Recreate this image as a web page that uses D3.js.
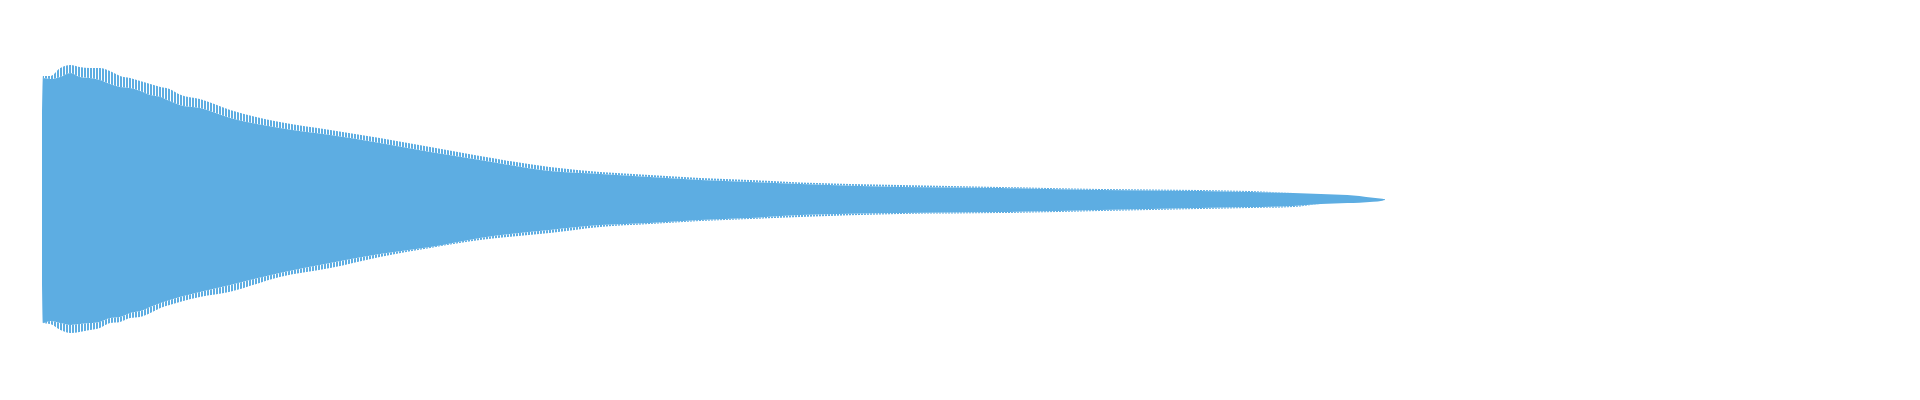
<!DOCTYPE html>
<html>
<head>
<meta charset="utf-8">
<script src="https://cdn.jsdelivr.net/npm/d3@7"></script>
<style>
    body { margin: 0; background: #fff; }
</style>
</head>
<body>
<div id="wave"></div>
<script>
// envelope of the waveform (time in s, amplitude -1..1)
var times =   [0, 0.001, 0.009, 0.020, 0.031, 0.041, 0.052, 0.063, 0.074, 0.085, 0.096, 0.107, 0.118, 0.129, 0.139, 0.150, 0.172, 0.205, 0.259, 0.314, 0.368, 0.423, 0.477, 0.553, 0.608, 0.662, 0.717, 0.771, 0.826, 0.935, 1.044, 1.153, 1.261, 1.316, 1.363, 1.393, 1.422, 1.435, 1.450, 1.460, 1.463]
var peakMax = [0.60, 0.886, 0.886, 0.943, 0.964, 0.950, 0.943, 0.943, 0.921, 0.886, 0.871, 0.850, 0.829, 0.807, 0.793, 0.754, 0.721, 0.643, 0.557, 0.500, 0.443, 0.379, 0.314, 0.236, 0.200, 0.179, 0.157, 0.143, 0.125, 0.107, 0.093, 0.079, 0.071, 0.064, 0.050, 0.043, 0.036, 0.029, 0.016, 0.009, 0.005]
var bodyMax = [0.60, 0.871, 0.864, 0.879, 0.907, 0.879, 0.871, 0.857, 0.829, 0.807, 0.800, 0.779, 0.750, 0.736, 0.707, 0.679, 0.657, 0.586, 0.514, 0.464, 0.407, 0.343, 0.286, 0.207, 0.186, 0.164, 0.143, 0.129, 0.114, 0.093, 0.086, 0.071, 0.064, 0.057, 0.050, 0.043, 0.036, 0.029, 0.016, 0.009, 0.005]
var bodyMin = [-0.60, -0.879, -0.864, -0.879, -0.893, -0.886, -0.879, -0.871, -0.843, -0.836, -0.807, -0.793, -0.764, -0.736, -0.714, -0.693, -0.657, -0.607, -0.521, -0.450, -0.386, -0.336, -0.271, -0.214, -0.179, -0.164, -0.143, -0.129, -0.107, -0.093, -0.086, -0.071, -0.057, -0.050, -0.043, -0.029, -0.021, -0.019, -0.012, -0.005, 0]
var peakMin = [-0.60, -0.879, -0.886, -0.929, -0.950, -0.943, -0.929, -0.914, -0.879, -0.871, -0.843, -0.836, -0.807, -0.771, -0.750, -0.729, -0.693, -0.655, -0.550, -0.486, -0.407, -0.343, -0.286, -0.236, -0.193, -0.171, -0.150, -0.136, -0.121, -0.100, -0.093, -0.079, -0.064, -0.057, -0.050, -0.029, -0.021, -0.019, -0.012, -0.005, 0]

width = 1920
height = 400
waveColor = '#5dade2'

var svg = d3.select('#wave').append('svg')
    .attr('width', width)
    .attr('height', height)
    .style('display', 'block')

var xScale = d3.scaleLinear()
    .domain([0, 2])
    .range([42, width - 42])

var yScale = d3.scaleLinear()
    .domain([-1, 1])
    .range([340, 60])

var rows = times.map(function (t, i) {
    return { t: t, pMax: peakMax[i], bMax: bodyMax[i], bMin: bodyMin[i], pMin: peakMin[i] }
})

// thin vertical strokes for the ragged edge
var pattern = svg.append('defs').append('pattern')
    .attr('id', 'spikes')
    .attr('patternUnits', 'userSpaceOnUse')
    .attr('width', 3)
    .attr('height', 10)
pattern.append('rect')
    .attr('x', 0)
    .attr('y', 0)
    .attr('width', 2)
    .attr('height', 10)
    .style('fill', waveColor)

function band(lo, hi) {
    return d3.area()
        .x(d => xScale(d.t))
        .y0(d => yScale(d[lo]))
        .y1(d => yScale(d[hi]))
        .curve(d3.curveMonotoneX)
}

//top and bottom fringes
svg.append('path')
    .attr('d', band('bMax', 'pMax')(rows))
    .style('fill', 'url(#spikes)')

svg.append('path')
    .attr('d', band('pMin', 'bMin')(rows))
    .style('fill', 'url(#spikes)')

//solid body
svg.append('path')
    .attr('d', band('bMin', 'bMax')(rows))
    .style('fill', waveColor)
</script>
</body>
</html>
